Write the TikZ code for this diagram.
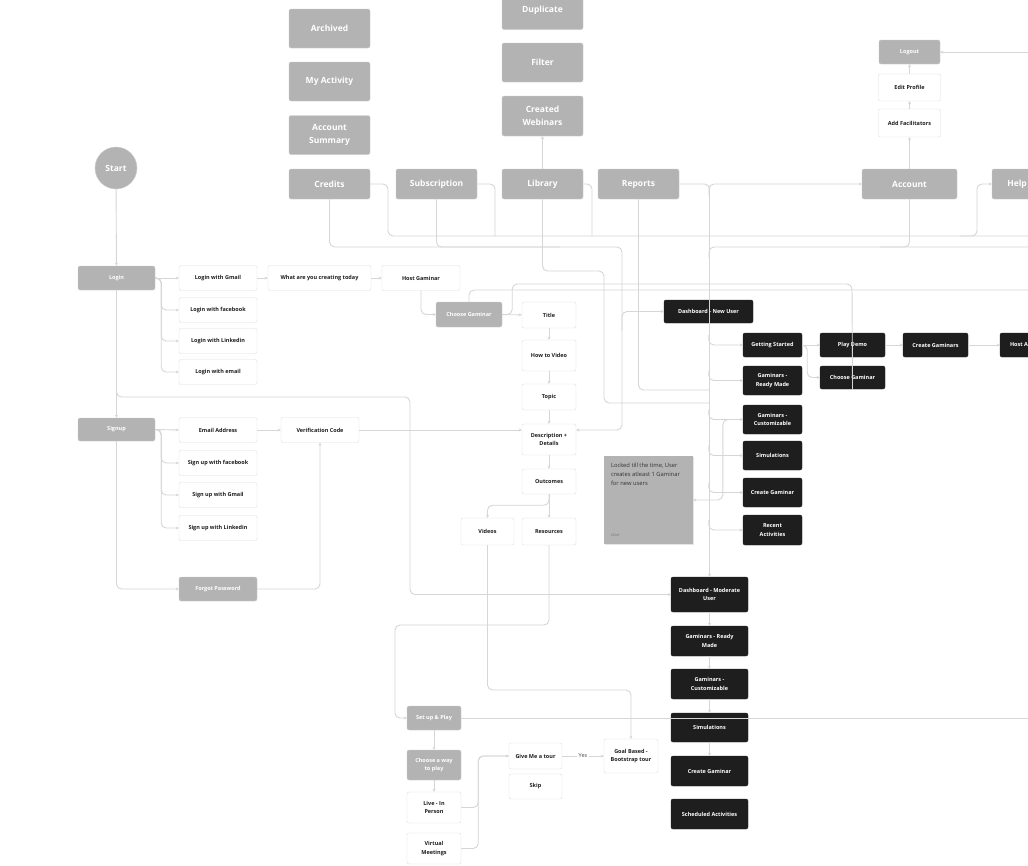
\documentclass[tikz,border=0pt]{standalone}
\usepackage{fontspec}
\setsansfont{Open Sans}
\usetikzlibrary{arrows.meta,shadows}
\definecolor{Ash}{HTML}{B3B3B3}
\definecolor{AshLine}{HTML}{CDCDCD}
\definecolor{Coal}{HTML}{1E1E1E}
\definecolor{Wire}{HTML}{D6D6D6}
\definecolor{Edge}{HTML}{DEDEDE}
\definecolor{NoteInk}{HTML}{333333}

\begin{document}
\begin{tikzpicture}[x=1pt,y=-1pt,font=\sffamily\bfseries,>={Stealth[length=3pt,width=3pt]},
 small/.style={font=\sffamily\bfseries\fontsize{5.5}{8.5}\selectfont},
 big/.style={font=\sffamily\bfseries\fontsize{8.5}{13}\selectfont},
 gbox/.style={draw=AshLine,fill=Ash,text=white,rounded corners=2pt,align=center,inner sep=1pt,minimum width=78,minimum height=24,small},
 gbig/.style={gbox,big,minimum width=81,minimum height=39},
 wbox/.style={draw=Edge,fill=white,text=Coal,rounded corners=2pt,align=center,inner sep=1pt,minimum width=78,minimum height=25,small},
 dbox/.style={draw=Coal,fill=Coal,text=white,rounded corners=2pt,align=center,inner sep=1pt,minimum width=59,minimum height=29,small},
 wire/.style={draw=Wire,line width=0.9pt,rounded corners=5pt},
 link/.style={wire,->}]
 \fill[white] (0,0) rectangle (1028,865);
 \useasboundingbox (0,0) rectangle (1028,865);

 \node[circle,fill=Ash,draw=AshLine,text=white,minimum size=42,big] (start) at (116,168) {Start};
 \node[gbig] (arch) at (329.5,28.5) {Archived};
 \node[gbig] (myact) at (329.5,81.5) {My Activity};
 \node[gbig] (accsum) at (329.5,135) {Account\\Summary};
 \node[gbig,minimum height=30] (credits) at (329.5,184) {Credits};
 \node[gbig,minimum height=30] (subs) at (436.5,184) {Subscription};
 \node[gbig,minimum height=30] (lib) at (542.5,184) {Library};
 \node[gbig,minimum height=30] (reports) at (638.5,184) {Reports};
 \node[gbig,minimum height=30,minimum width=95] (acct) at (909.5,184) {Account};
 \node[gbig,minimum height=30,minimum width=50] (help) at (1017,184) {Help};
 \node[gbig] (dup) at (542.5,10) {Duplicate};
 \node[gbig] (filter) at (542.5,62.5) {Filter};
 \node[gbig,minimum height=40] (cweb) at (542.5,116) {Created\\Webinars};

 \node[gbox,minimum width=77] (login) at (116.5,278) {Login};
 \node[gbox,minimum width=77,minimum height=23] (signup) at (116.5,429.5) {Signup};
 \node[gbox,minimum width=66,minimum height=25] (cg) at (469,314.5) {Choose Gaminar};
 \node[gbox] (forgot) at (218,589) {Forgot Password};
 \node[gbox,minimum width=61] (logout) at (909.5,52) {Logout};
 \node[gbox,minimum width=54] (setup) at (434,718) {Set up \& Play};
 \node[gbox,minimum width=54,minimum height=30] (way) at (434,765) {Choose a way\\to play};

 \node[wbox] (lgm) at (218,278) {Login with Gmail};
 \node[wbox] (lfb) at (218,310) {Login with facebook};
 \node[wbox] (lli) at (218,341) {Login with Linkedin};
 \node[wbox] (lem) at (218,372) {Login with email};
 \node[wbox,minimum width=103] (what) at (319.5,278) {What are you creating today};
 \node[wbox] (hostg) at (421,278) {Host Gaminar};
 \node[wbox,minimum width=54,minimum height=26] (title) at (549,315) {Title};
 \node[wbox,minimum width=54,minimum height=31] (howto) at (549,355.5) {How to Video};
 \node[wbox,minimum width=54,minimum height=26] (topic) at (549,397) {Topic};
 \node[wbox,minimum width=54,minimum height=31] (desc) at (549,439.5) {Description +\\Details};
 \node[wbox,minimum width=54] (outc) at (549,481.5) {Outcomes};
 \node[wbox,minimum width=53,minimum height=27] (videos) at (487.5,531.5) {Videos};
 \node[wbox,minimum width=54,minimum height=27] (res) at (549,531.5) {Resources};
 \node[wbox,minimum width=62,minimum height=27] (editp) at (909.5,87.5) {Edit Profile};
 \node[wbox,minimum width=62,minimum height=28] (addf) at (909.5,123) {Add Facilitators};
 \node[wbox] (email) at (218,430) {Email Address};
 \node[wbox] (sfb) at (218,463) {Sign up with facebook};
 \node[wbox] (sgm) at (218,495) {Sign up with Gmail};
 \node[wbox] (sli) at (218,528) {Sign up with Linkedin};
 \node[wbox] (verif) at (320,430) {Verification Code};
 \node[wbox,minimum width=54,minimum height=31] (live) at (434,807.5) {Live - In\\Person};
 \node[wbox,minimum width=54,minimum height=31] (virt) at (434,848.5) {Virtual\\Meetings};
 \node[wbox,minimum width=53,minimum height=26] (tour) at (535.5,756) {Give Me a tour};
 \node[wbox,minimum width=53] (skip) at (535.5,786.5) {Skip};
 \node[wbox,minimum width=54,minimum height=34] (goal) at (631,756) {Goal Based -\\Bootstrap tour};

 \node[dbox,minimum width=89,minimum height=23] (dnew) at (708.5,311.5) {Dashboard - New User};
 \node[dbox,minimum height=24] (gs) at (772.5,345) {Getting Started};
 \node[dbox] (grm) at (772.5,380.5) {Gaminars -\\Ready Made};
 \node[dbox] (gcu) at (772.5,419.5) {Gaminars -\\Customizable};
 \node[dbox] (sim) at (772.5,455.5) {Simulations};
 \node[dbox] (cga) at (772.5,492.5) {Create Gaminar};
 \node[dbox,minimum height=30] (rec) at (772.5,530) {Recent\\Activities};
 \node[dbox,minimum width=65,minimum height=24] (pd) at (852.5,345) {Play Demo};
 \node[dbox,minimum width=65,minimum height=23] (cgd) at (852.5,377.5) {Choose Gaminar};
 \node[dbox,minimum width=65,minimum height=24] (cgs) at (935.5,345) {Create Gaminars};
 \node[dbox,minimum width=38,minimum height=24] (hosta) at (1019,345) {Host A};
 \node[dbox,minimum width=77,minimum height=35] (dmod) at (709.5,594.5) {Dashboard - Moderate\\User};
 \node[dbox,minimum width=77,minimum height=30] (grm2) at (709.5,641) {Gaminars - Ready\\Made};
 \node[dbox,minimum width=77,minimum height=30] (gcu2) at (709.5,684) {Gaminars -\\Customizable};
 \node[dbox,minimum width=77,minimum height=29] (sim2) at (709.5,727.5) {Simulations};
 \node[dbox,minimum width=77,minimum height=30] (cga2) at (709.5,771) {Create Gaminar};
 \node[dbox,minimum width=77,minimum height=30] (sch) at (709.5,814) {Scheduled Activities};

 \node[fill=Ash,minimum width=89,minimum height=88,drop shadow={opacity=0.2,shadow xshift=0.6pt,shadow yshift=-1.2pt}] (note) at (648.5,500) {};
 \node[anchor=north west,align=left,text=NoteInk,font=\sffamily\fontsize{5.8}{9}\selectfont,inner sep=0pt] (notetxt) at ([shift={(7,7)}]note.north west) {Locked till the time, User\\creates atleast 1 Gaminar\\for new users};
 \node[anchor=south west,text=NoteInk!70,font=\sffamily\fontsize{3.5}{4}\selectfont,inner sep=0pt] (chief) at ([shift={(7,-7)}]note.south west) {Chief};
 \node[fill=white,text=Coal!80,font=\sffamily\fontsize{5.5}{6}\selectfont,inner sep=2pt] (yes) at (583,756) {Yes};

 \coordinate (offA) at (1040,52);
 \coordinate (offB) at (1040,290);
 \coordinate (offC) at (1040,718);
 \coordinate (offD) at (1040,236);
 \coordinate (offE) at (1040,247);
 \coordinate (vg) at (631,690);

 \draw[link] (start) -- (login);
 \draw[link] (login) -- (signup);
 \draw[link] (login.east) -- (lgm.west);
 \foreach \nm in {lfb,lli,lem}{\draw[link] (login.east) -- ++(6,0) |- (\nm.west);}
 \draw[link] (lgm) -- (what);
 \draw[link] (what) -- (hostg);
 \draw[link] (hostg.south) |- (cg.west);
 \draw[link] (cg) -- (title);
 \draw[link] (title) -- (howto);
 \draw[link] (howto) -- (topic);
 \draw[link] (topic) -- (desc);
 \draw[link] (desc) -- (outc);
 \draw[link] (outc) -- (res);
 \draw[link] (outc.south) -- ++(0,11) -| (videos.north);
 \draw[link] (login.south) ++(0,95) |- (410,397) |- (dmod.west);

 \draw[link] (signup.east) -- (email.west);
 \foreach \nm in {sfb,sgm,sli}{\draw[link] (signup.east) -- ++(6,0) |- (\nm.west);}
 \draw[link] (signup.south) |- (forgot.west);
 \draw[link] (forgot.east) -| (verif.south);
 \draw[link] (email) -- (verif);
 \draw[link] (verif.east) -- (verif.east -| desc.west);

 \draw[link] (lib) -- (cweb);
 \draw[link] (credits.south) |- (622,247) |- (desc.east |- verif.east);
 \draw[wire] (subs.south) |- (560,247);
 \draw[link] (622,330) |- (dnew.west);
 \draw[wire] (lib.south) |- (604,271) |- (709,403);
 \draw[wire] (reports.south) |- (709,390);
 \draw[wire] (credits.east) -| (388,236) -- (offD);
 \draw[wire] (subs.east) -| (495,236);
 \draw[wire] (lib.east) -| (592,236);
 \draw[link] (960,236) -| (977,195) |- (help.west);
 \draw[link] (reports.east) -| (dmod.north);
 \draw[link] (709,196) |- (acct.west);
 \draw[wire] (709,258) |- (offE);
 \draw[wire] (acct.south) |- (880,247);

 \draw[link] (acct) -- (addf);
 \draw[link] (addf) -- (editp);
 \draw[link] (editp) -- (logout);
 \draw[link] (offA) -- (logout);

 \draw[wire] (cg.east) -- ++(10,0) |- (852,284) -- (cgd.south);
 \draw[wire] (cg.north) |- (offB);
 \foreach \nm in {gs,grm,gcu,sim,cga,rec}{\draw[link] (\nm.west) ++(-34,-10) |- (\nm.west);}
 \draw[link] (gcu.west) -- ++(-20,0) |- (note.east);
 \draw[wire] (cga.west) -- ++(-20,0);
 \draw[link] (gs) -- (pd);
 \draw[link] (gs.east) -- ++(5,0) |- (cgd.west);
 \draw[link] (pd) -- (cgs);
 \draw[link] (cgs) -- (hosta);

 \draw[link] (dmod) -- (grm2);
 \draw[link] (grm2) -- (gcu2);
 \draw[link] (gcu2) -- (sim2);
 \draw[link] (sim2) -- (cga2);
 \draw[link] (res.south) |- (395,625) |- (setup.west);
 \draw[wire] (setup.east) -- (offC);
 \draw[link] (videos.south) |- (vg) -- (goal.north);
 \draw[link] (setup) -- (way);
 \draw[link] (way) -- (live);
 \draw[link] (live.east) -- ++(17,0) |- (tour.west);
 \draw[wire] (virt.east) -- ++(17,0) |- (tour.west);
 \draw[wire] (tour) -- (yes);
 \draw[link] (yes) -- (goal);
\end{tikzpicture}
\end{document}
